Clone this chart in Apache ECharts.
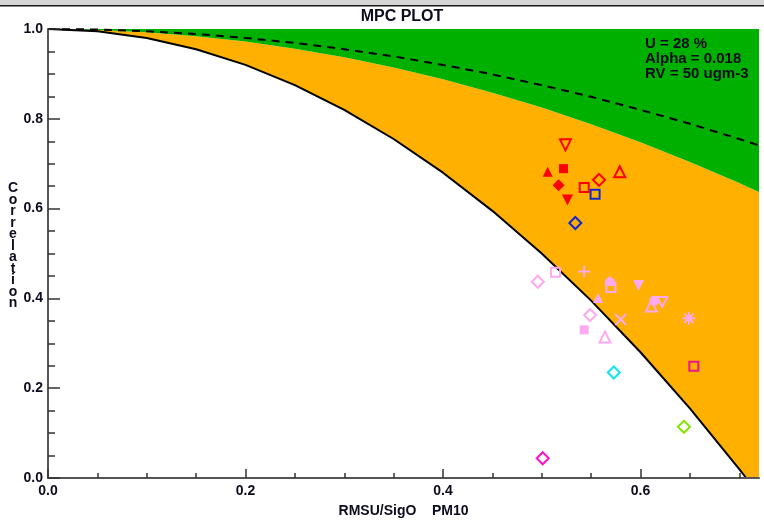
<!DOCTYPE html>
<html>
<head>
<meta charset="utf-8">
<title>MPC PLOT</title>
<script src="https://cdn.jsdelivr.net/npm/echarts@6/dist/echarts.min.js"></script>
<style>
  html, body { margin: 0; padding: 0; background: #fff; }
  #chart { width: 764px; height: 523px; }
</style>
</head>
<body>
<div id="chart"></div>
<script>
// ---- Criteria curves (RMSU/SigO on x, correlation on y) ----
const curveX  = [0, 0.05, 0.1, 0.15, 0.2, 0.25, 0.3, 0.35, 0.4, 0.45, 0.5, 0.55, 0.6, 0.65, 0.7, 0.707, 0.72];
const limitR  = [1.0, 0.995, 0.98, 0.955, 0.92, 0.875, 0.82, 0.755, 0.68, 0.595, 0.50, 0.395, 0.28, 0.155, 0.02, 0.0, 0.0];
const bandR   = [1.0, 0.998, 0.993, 0.984, 0.972, 0.956, 0.937, 0.914, 0.888, 0.858, 0.825, 0.788, 0.748, 0.704, 0.657, 0.650, 0.637];
const dashedR = [1.0, 0.999, 0.995, 0.989, 0.98, 0.969, 0.955, 0.939, 0.92, 0.899, 0.875, 0.849, 0.82, 0.789, 0.755, 0.75, 0.741];

// ---- Axis ticks ----
const xMajorTicks = [0, 0.2, 0.4, 0.6];
const xMinorTicks = [0.05, 0.1, 0.15, 0.25, 0.3, 0.35, 0.45, 0.5, 0.55, 0.65, 0.7];

// ---- Stations: [RMSU/SigO, correlation] ----
const redOpenInvTri     = [[0.524, 0.742]];
const redFilledSquare   = [[0.522, 0.689]];
const redFilledTri      = [[0.506, 0.682]];
const redFilledDiamond  = [[0.517, 0.652]];
const redFilledInvTri   = [[0.526, 0.619]];
const redOpenSquare     = [[0.543, 0.647]];
const redOpenDiamond    = [[0.558, 0.664]];
const redOpenTri        = [[0.579, 0.682]];
const blueOpenSquare    = [[0.554, 0.632]];
const blueOpenDiamond   = [[0.534, 0.568]];

const pinkOpenDiamond   = [[0.496, 0.437], [0.549, 0.363]];
const pinkOpenSquare    = [[0.514, 0.458], [0.570, 0.424]];
const pinkPlus          = [[0.543, 0.460]];
const pinkFilledHouse   = [[0.569, 0.439]];
const pinkFilledInvTri  = [[0.598, 0.429]];
const pinkFilledTri     = [[0.557, 0.401]];
const pinkFilledSquare  = [[0.543, 0.330]];
const pinkOpenTri       = [[0.564, 0.314], [0.611, 0.383]];
const pinkFilledCircle  = [[0.614, 0.395]];
const pinkOpenInvTri    = [[0.622, 0.392]];
const pinkCross         = [[0.580, 0.353]];
const pinkAsterisk      = [[0.649, 0.356]];

const deepPinkOpenSquare = [[0.654, 0.249]];
const cyanOpenDiamond    = [[0.573, 0.235]];
const limeOpenDiamond    = [[0.644, 0.114]];
const magentaOpenDiamond = [[0.501, 0.044]];

// ---- Texts ----
const titleText = 'MPC PLOT';
const infoLines = ['U = 28 %', 'Alpha = 0.018', 'RV = 50 ugm-3'];
const xName = 'RMSU/SigO    PM10';
const yName = 'Correlation';

const FONT = '"Liberation Sans", Arial, sans-serif';
const RED = '#ff0000', BLUE = '#1028d0', PINK = '#ffaaee';

const pair = (xs, ys) => xs.map((x, i) => [x, ys[i]]);

const SYM = {
  tri: 'triangle',
  invTri: 'path://M-10,-10L10,-10L0,10Z',
  square: 'rect',
  diamond: 'diamond',
  circle: 'circle',
  house: 'path://M0,-10L10,-2L10,10L-10,10L-10,-2Z',
  plus: 'path://M0,-10L0,10M-10,0L10,0',
  cross: 'path://M-10,-10L10,10M-10,10L10,-10',
  asterisk: 'path://M-10,0L10,0M0,-10L0,10M-7,-7L7,7M-7,7L7,-7'
};

function marker(data, symbol, size, color, filled) {
  return {
    type: 'scatter',
    data: data,
    symbol: symbol,
    symbolSize: size,
    silent: true,
    z: 20,
    itemStyle: filled
      ? { color: color, borderWidth: 0, opacity: 1 }
      : { color: 'rgba(0,0,0,0)', borderColor: color, borderWidth: 2, opacity: 1 }
  };
}

function fillSeries(ys, color, origin) {
  return {
    type: 'line', data: pair(curveX, ys), symbol: 'none', silent: true, z: 2,
    lineStyle: { width: 0, opacity: 0 },
    areaStyle: { color: color, opacity: 1, origin: origin }
  };
}

const chart = echarts.init(document.getElementById('chart'), null, { renderer: 'canvas' });

const labelStyle = { fontFamily: FONT, fontWeight: 'bold', fontSize: 14, color: '#0c0c1e' };

chart.setOption({
  animation: false,
  backgroundColor: '#ffffff',
  grid: { left: 48, top: 29, right: 5, bottom: 38, containLabel: false },
  xAxis: [
    {
      type: 'value', min: 0, max: 0.72, position: 'bottom', z: 10,
      name: xName, nameLocation: 'middle', nameGap: 26,
      nameTextStyle: { fontFamily: FONT, fontWeight: 'bold', fontSize: 14, color: '#0c0c1e' },
      axisLine: { show: true, lineStyle: { color: '#555', width: 2 } },
      axisTick: { show: true, inside: true, length: 9, customValues: xMajorTicks, lineStyle: { color: '#333', width: 1.5 } },
      axisLabel: Object.assign({ show: true, margin: 6, customValues: xMajorTicks, formatter: v => v.toFixed(1) }, labelStyle),
      splitLine: { show: false }
    },
    {
      type: 'value', min: 0, max: 0.72, position: 'bottom', z: 10,
      axisLine: { show: false },
      axisTick: { show: true, inside: true, length: 5, customValues: xMinorTicks, lineStyle: { color: '#333', width: 1.5 } },
      axisLabel: { show: false },
      splitLine: { show: false }
    }
  ],
  yAxis: {
    type: 'value', min: 0, max: 1, interval: 0.2, z: 10,
    axisLine: { show: true, lineStyle: { color: '#555', width: 2 } },
    axisTick: { show: true, inside: true, length: 12, lineStyle: { color: '#333', width: 1.5 } },
    minorTick: { show: true, splitNumber: 4, length: 7, lineStyle: { color: '#333', width: 1.5 } },
    axisLabel: Object.assign({ show: true, margin: 5, formatter: v => v.toFixed(1) }, labelStyle),
    splitLine: { show: false },
    minorSplitLine: { show: false }
  },
  series: [
    // orange band below the green/orange boundary
    fillSeries(bandR, '#ffb000', 'start'),
    // white region below the limit curve, with the limit curve itself
    {
      type: 'line', data: pair(curveX, limitR), symbol: 'none', silent: true, z: 3,
      lineStyle: { color: '#000', width: 2 },
      areaStyle: { color: '#ffffff', opacity: 1, origin: 'start' }
    },
    // green region above the boundary
    fillSeries(bandR, '#00b000', 'end'),
    // dashed curve
    {
      type: 'line', data: pair(curveX, dashedR), symbol: 'none', silent: true, z: 4,
      lineStyle: { color: '#000', width: 2, type: [8, 6] }
    },

    marker(redOpenInvTri, SYM.invTri, 11, RED, false),
    marker(redFilledSquare, SYM.square, 9, RED, true),
    marker(redFilledTri, SYM.tri, 10, RED, true),
    marker(redFilledDiamond, SYM.diamond, 12, RED, true),
    marker(redFilledInvTri, SYM.invTri, 11, RED, true),
    marker(redOpenSquare, SYM.square, 9, RED, false),
    marker(redOpenDiamond, SYM.diamond, 12, RED, false),
    marker(redOpenTri, SYM.tri, 11, RED, false),
    marker(blueOpenSquare, SYM.square, 9, BLUE, false),
    marker(blueOpenDiamond, SYM.diamond, 12, BLUE, false),

    marker(pinkOpenSquare, SYM.square, 9, PINK, false),
    marker(pinkFilledHouse, SYM.house, 10, PINK, true),
    marker(pinkOpenDiamond, SYM.diamond, 12, PINK, false),
    marker(pinkPlus, SYM.plus, 12, PINK, false),
    marker(pinkFilledInvTri, SYM.invTri, 11, PINK, true),
    marker(pinkFilledTri, SYM.tri, 10, PINK, true),
    marker(pinkFilledSquare, SYM.square, 9, PINK, true),
    marker(pinkOpenTri, SYM.tri, 11, PINK, false),
    marker(pinkFilledCircle, SYM.circle, 10, PINK, true),
    marker(pinkOpenInvTri, SYM.invTri, 10, PINK, false),
    marker(pinkCross, SYM.cross, 11, PINK, false),
    marker(pinkAsterisk, SYM.asterisk, 13, PINK, false),

    marker(deepPinkOpenSquare, SYM.square, 9, '#f0148c', false),
    marker(cyanOpenDiamond, SYM.diamond, 12, '#10e4ee', false),
    marker(limeOpenDiamond, SYM.diamond, 12, '#84e600', false),
    marker(magentaOpenDiamond, SYM.diamond, 12, '#ff10c8', false)
  ],
  graphic: [
    { type: 'rect', shape: { x: 0, y: 0, width: 764, height: 5 }, style: { fill: '#d6d6d6' }, silent: true },
    { type: 'rect', shape: { x: 0, y: 5, width: 764, height: 1.5 }, style: { fill: '#1a1a1a' }, silent: true },
    {
      type: 'text', x: 402, y: 17, silent: true,
      style: { text: titleText, font: 'bold 16px ' + FONT, fill: '#0c0c1e', textAlign: 'center', textVerticalAlign: 'middle' }
    },
    {
      type: 'text', x: 645, y: 36, silent: true, z: 30,
      style: { text: infoLines.join('\n'), font: 'bold 15px ' + FONT, lineHeight: 15.2, fill: '#0c0c1e', textAlign: 'left', textVerticalAlign: 'top' }
    },
    {
      type: 'text', x: 13, y: 246, silent: true,
      style: { text: yName.split('').join('\n'), font: 'bold 14px ' + FONT, lineHeight: 11.5, fill: '#0c0c1e', textAlign: 'center', textVerticalAlign: 'middle' }
    }
  ]
});
</script>
</body>
</html>
